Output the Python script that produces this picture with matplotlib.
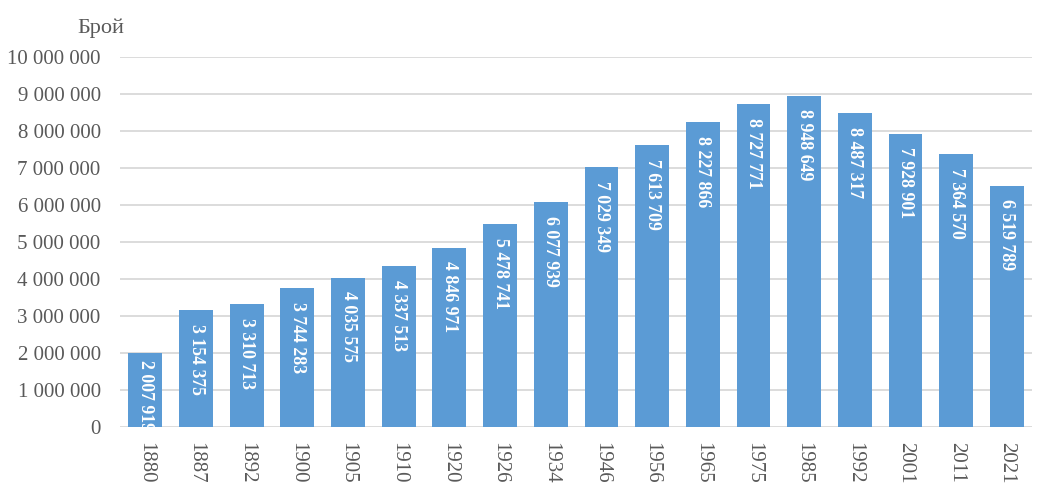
import matplotlib
matplotlib.use('Agg')
import matplotlib.pyplot as plt
import matplotlib.ticker as mt

years = ['1880', '1887', '1892', '1900', '1905', '1910', '1920', '1926', '1934',
         '1946', '1956', '1965', '1975', '1985', '1992', '2001', '2011', '2021']
population = [2007919, 3154375, 3310713, 3744283, 4035575, 4337513, 4846971, 5478741,
              6077939, 7029349, 7613709, 8227866, 8727771, 8948649, 8487317, 7928901,
              7364570, 6519789]

def fmt(v):
  return '{:,}'.format(int(v)).replace(',', ' ')

plt.rcParams['font.family'] = ['Liberation Serif', 'DejaVu Serif']
txt = '#595959'

fig = plt.figure(figsize=(10.63, 5.03), dpi=100)
ax = fig.add_axes([0.113, 0.151, 0.858, 0.736])

xs = range(len(years))
ax.bar(xs, population, width=0.67, color='#5B9BD5', zorder=2)

# value labels inside the bars, reading top to bottom
# (a short bar pushes its label up so it still fits)
for x, v in zip(xs, population):
  y = max(v - 370000, 1810000)
  ax.text(x, y, fmt(v), rotation=-90, ha='center', va='top',
          color='white', fontsize=12.8, fontweight='bold', zorder=3)

ax.set_xlim(-0.5, len(years) - 0.5)
ax.set_ylim(0, 10000000)
ax.yaxis.set_major_locator(mt.MultipleLocator(1000000))
ax.yaxis.set_major_formatter(mt.FuncFormatter(lambda v, p: fmt(v)))
ax.set_xticks(list(xs))
ax.set_xticklabels(years, rotation=-90)

ax.grid(axis='y', color='#d9d9d9', linewidth=1.3, zorder=0)
for s in ax.spines.values():
  s.set_visible(False)
ax.tick_params(axis='both', length=0, labelsize=15, colors=txt)
ax.tick_params(axis='x', pad=11)
ax.tick_params(axis='y', pad=14)

fig.text(0.073, 0.935, 'Брой', fontsize=16, color=txt)

fig.savefig('out.png', dpi=100)
